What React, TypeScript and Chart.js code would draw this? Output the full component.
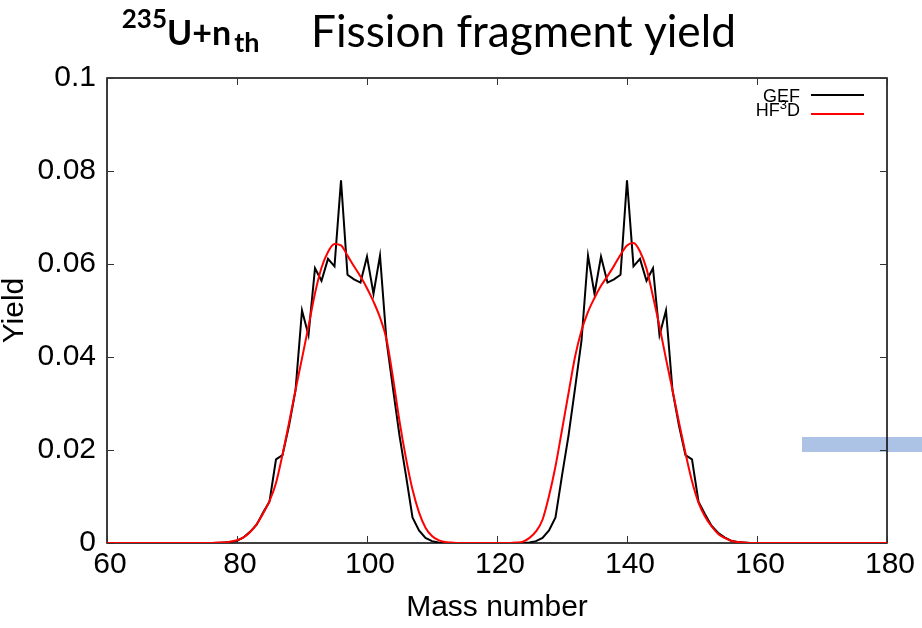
import React, { useEffect, useRef } from "react";
import { Chart, registerables } from "chart.js";

Chart.register(...registerables);

// Mass numbers (A) at which the yields are given
const massNumbers = [
  60, 76, 77, 78, 79, 80, 81, 82, 83, 84, 85, 86, 87, 88, 89, 90, 91, 92, 93, 94, 95,
  96, 97, 98, 99, 100, 101, 102, 103, 104, 105, 106, 107, 108, 109, 110, 111, 112, 113,
  114, 115, 116, 117, 118, 119, 120, 121, 122, 123, 124, 125, 126, 127, 128, 129, 130,
  131, 132, 133, 134, 135, 136, 137, 138, 139, 140, 141, 142, 143, 144, 145, 146, 147,
  148, 149, 150, 151, 152, 153, 154, 155, 156, 157, 158, 159, 160, 180,
];

// GEF yields
const gefYield = [
  0, 0, 0, 0.0001, 0.0002, 0.0005, 0.0012, 0.0024, 0.0039, 0.0065, 0.0089, 0.018, 0.0189,
  0.0252, 0.0328, 0.05, 0.0447, 0.0591, 0.0564, 0.0611, 0.0595,
  0.078, 0.0577, 0.0567, 0.056, 0.0616, 0.0536, 0.0618, 0.0435, 0.0332, 0.0231, 0.0145,
  0.0055, 0.0027, 0.0011, 0.0004, 0.0001, 0, 0,
  0, 0, 0, 0, 0, 0, 0, 0, 0, 0, 0, 0.0001, 0.0004, 0.0011, 0.0027, 0.0055, 0.0145,
  0.0231, 0.0332, 0.0435, 0.0618, 0.0536, 0.0616, 0.056, 0.0567, 0.0577, 0.078, 0.0595,
  0.0611, 0.0564, 0.0591, 0.0447, 0.05, 0.0328,
  0.0252, 0.0189, 0.018, 0.0089, 0.0062, 0.0037, 0.0022, 0.0012, 0.0005, 0.0002, 0.0001,
  0, 0, 0,
];

// HF3D yields
const hf3dYield = [
  0, 0, 0.0001, 0.0001, 0.0003, 0.0006, 0.0012, 0.0023, 0.004, 0.0063, 0.009, 0.0129,
  0.019, 0.0258, 0.0329, 0.0397, 0.0466, 0.0537, 0.0592, 0.0626, 0.0643,
  0.064, 0.0618, 0.0595, 0.0573, 0.0548, 0.0519, 0.0485, 0.0438, 0.0355, 0.0262, 0.0182,
  0.0115, 0.0066, 0.0033, 0.0015, 0.0006, 0.0002, 0.0001,
  0, 0, 0, 0, 0, 0, 0, 0, 0, 0.0001, 0.0003, 0.0011, 0.0025, 0.005, 0.0101, 0.0165, 0.0243,
  0.0322, 0.04, 0.0457, 0.0497, 0.0527, 0.0553, 0.0574, 0.0596, 0.062, 0.064, 0.0645,
  0.0627, 0.059, 0.053, 0.0466, 0.0396, 0.0329,
  0.0259, 0.0193, 0.0133, 0.0087, 0.0057, 0.0036, 0.002, 0.0011, 0.0005, 0.0002, 0.0001,
  0, 0, 0,
];

const xTickValues = [60, 80, 100, 120, 140, 160, 180];
const xTickLabels = ["60", "80", "100", "120", "140", "160", "180"];
const yTickValues = [0, 0.02, 0.04, 0.06, 0.08, 0.1];
const yTickLabels = ["0", "0.02", "0.04", "0.06", "0.08", "0.1"];

const seriesNames = ["GEF", "HF3D"];
const seriesColors = ["#000000", "#ff0000"];

const FONT = "'Liberation Sans', Arial, Helvetica, sans-serif";

export default function App() {
  const canvasRef = useRef<HTMLCanvasElement | null>(null);

  useEffect(() => {
    const canvas = canvasRef.current;
    if (!canvas) return;

    const framePlugin = {
      id: "frameTicks",
      beforeDatasetsDraw(chart: any) {
        const { ctx, chartArea } = chart;
        const { left, right, top, bottom } = chartArea;
        const xs = chart.scales.x;
        const ys = chart.scales.y;
        ctx.save();
        ctx.strokeStyle = "#000";
        ctx.lineWidth = 1.5;
        ctx.strokeRect(left, top, right - left, bottom - top);
        ctx.lineWidth = 1;
        ctx.strokeStyle = "#333";
        const tl = 7;
        ctx.beginPath();
        xTickValues.forEach((v) => {
          const px = Math.round(xs.getPixelForValue(v)) + 0.5;
          ctx.moveTo(px, bottom);
          ctx.lineTo(px, bottom - tl);
          ctx.moveTo(px, top);
          ctx.lineTo(px, top + tl);
        });
        yTickValues.forEach((v) => {
          const py = Math.round(ys.getPixelForValue(v)) + 0.5;
          ctx.moveTo(left, py);
          ctx.lineTo(left + tl, py);
          ctx.moveTo(right, py);
          ctx.lineTo(right - tl, py);
        });
        ctx.stroke();
        ctx.restore();
      },
    };

    const textPlugin = {
      id: "titleLegend",
      afterDraw(chart: any) {
        const { ctx, chartArea } = chart;
        ctx.save();
        ctx.fillStyle = "#000";
        ctx.textBaseline = "alphabetic";
        // Title: 235U+n_th
        const x0 = 167;
        ctx.textAlign = "right";
        ctx.font = "bold 26px Lato";
        ctx.fillText("235", x0, 28);
        ctx.textAlign = "left";
        ctx.font = "bold 34px Lato";
        ctx.fillText("U+n", x0, 45);
        const wU = ctx.measureText("U+n").width;
        ctx.font = "bold 27px Lato";
        ctx.fillText("th", x0 + wU + 3, 51.5);
        const mainTitle = "Fission fragment yield";
        ctx.font = "100px Lato";
        const w100 = ctx.measureText(mainTitle).width;
        const size = (100 * 425) / w100;
        ctx.font = `${size.toFixed(2)}px Lato`;
        ctx.fillText(mainTitle, 311, 46.5);

        // Legend (gnuplot style, top right)
        const textRight = chartArea.right - 87;
        const lineX0 = chartArea.right - 76;
        const lineX1 = chartArea.right - 23;
        ctx.font = `18px ${FONT}`;
        ctx.textAlign = "right";
        ctx.fillText(seriesNames[0], textRight, 101.5);
        ctx.strokeStyle = seriesColors[0];
        ctx.lineWidth = 2;
        ctx.beginPath();
        ctx.moveTo(lineX0, 95);
        ctx.lineTo(lineX1, 95);
        ctx.stroke();

        ctx.textAlign = "left";
        const big = `18px ${FONT}`;
        const small = `13px ${FONT}`;
        ctx.font = big;
        const wHF = ctx.measureText("HF").width;
        const wD = ctx.measureText("D").width;
        ctx.font = small;
        const w3 = ctx.measureText("3").width;
        const start = textRight - (wHF + w3 + wD);
        ctx.font = big;
        ctx.fillText("HF", start, 115.5);
        ctx.font = small;
        ctx.fillText("3", start + wHF, 108.5);
        ctx.font = big;
        ctx.fillText("D", start + wHF + w3, 115.5);
        ctx.strokeStyle = seriesColors[1];
        ctx.beginPath();
        ctx.moveTo(lineX0, 114);
        ctx.lineTo(lineX1, 114);
        ctx.stroke();
        ctx.restore();
      },
    };

    const chart = new Chart(canvas, {
      type: "line",
      data: {
        datasets: [
          {
            label: seriesNames[0],
            data: massNumbers.map((m, i) => ({ x: m, y: gefYield[i] })),
            borderColor: seriesColors[0],
            borderWidth: 2,
            pointRadius: 0,
            tension: 0,
            fill: false,
            order: 2,
          },
          {
            label: seriesNames[1],
            data: massNumbers.map((m, i) => ({ x: m, y: hf3dYield[i] })),
            borderColor: seriesColors[1],
            borderWidth: 2,
            pointRadius: 0,
            cubicInterpolationMode: "monotone",
            fill: false,
            order: 1,
          },
        ],
      },
      options: {
        animation: false,
        responsive: false,
        devicePixelRatio: 1,
        layout: { padding: { top: 78, right: 35, left: 0, bottom: 0 } },
        plugins: {
          legend: { display: false },
          title: { display: false },
          tooltip: { enabled: false },
        },
        scales: {
          x: {
            type: "linear",
            min: 60,
            max: 180,
            afterBuildTicks: (s: any) => {
              s.ticks = xTickValues.map((v) => ({ value: v }));
            },
            afterFit: (s: any) => {
              s.height = 85;
            },
            grid: { display: false, drawTicks: false },
            border: { display: false },
            ticks: {
              padding: 4,
              labelOffset: 3,
              color: "#000",
              maxRotation: 0,
              autoSkip: false,
              font: { family: FONT, size: 30 },
              callback: (v: any) => xTickLabels[xTickValues.indexOf(Number(v))] ?? "",
            },
            title: {
              display: true,
              text: "Mass number",
              color: "#000",
              font: { family: FONT, size: 30 },
              padding: { top: 0, bottom: 2 },
            },
          },
          y: {
            type: "linear",
            min: 0,
            max: 0.1,
            afterBuildTicks: (s: any) => {
              s.ticks = yTickValues.map((v) => ({ value: v }));
            },
            afterFit: (s: any) => {
              s.width = 107;
            },
            grid: { display: false, drawTicks: false },
            border: { display: false },
            ticks: {
              padding: 11,
              color: "#000",
              autoSkip: false,
              font: { family: FONT, size: 30 },
              callback: (v: any) => {
                const i = yTickValues.findIndex((t) => Math.abs(t - Number(v)) < 1e-9);
                return i >= 0 ? yTickLabels[i] : "";
              },
            },
            title: {
              display: true,
              text: "Yield",
              color: "#000",
              font: { family: FONT, size: 30, lineHeight: 0.95 },
              padding: 0,
            },
          },
        },
      },
      plugins: [framePlugin, textPlugin],
    } as any);

    return () => chart.destroy();
  }, []);

  return (
    <div
      style={{
        position: "absolute",
        left: 0,
        top: 0,
        width: 922,
        height: 628,
        background: "#ffffff",
        overflow: "hidden",
      }}
    >
      <div
        style={{
          position: "absolute",
          left: 802,
          top: 437,
          width: 120,
          height: 15,
          background: "#adc3e5",
        }}
      />
      <canvas
        ref={canvasRef}
        width={922}
        height={628}
        style={{ position: "absolute", left: 0, top: 0, width: 922, height: 628 }}
      />
    </div>
  );
}
